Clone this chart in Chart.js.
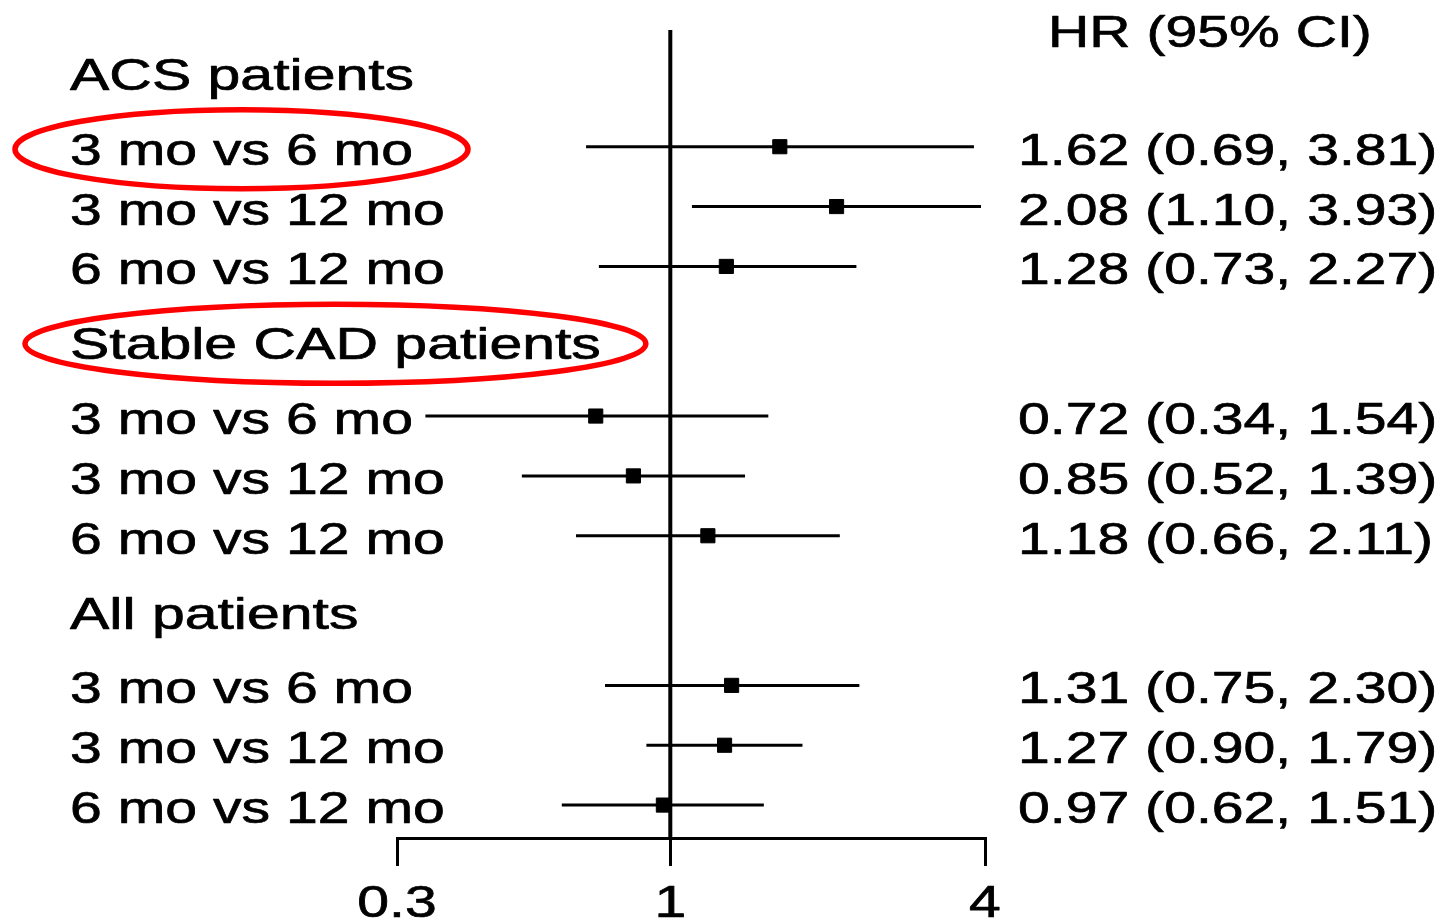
<!DOCTYPE html>
<html>
<head>
<meta charset="utf-8">
<script src="https://cdn.jsdelivr.net/npm/chart.js@4.4.1/dist/chart.umd.min.js"></script>
<style>
  html, body { margin: 0; padding: 0; background: #fff; }
  #wrap { width: 1448px; height: 919px; }
</style>
</head>
<body>
<div id="wrap"><canvas id="c" width="1448" height="919"></canvas></div>
<script>
// ---- data ----
const groups = ['ACS patients', 'Stable CAD patients', 'All patients'];
const comparisons = ['3 mo vs 6 mo', '3 mo vs 12 mo', '6 mo vs 12 mo'];
const hr    = [1.62, 2.08, 1.28, 0.72, 0.85, 1.18, 1.31, 1.27, 0.97];
const lower = [0.69, 1.10, 0.73, 0.34, 0.52, 0.66, 0.75, 0.90, 0.62];
const upper = [3.81, 3.93, 2.27, 1.54, 1.39, 2.11, 2.30, 1.79, 1.51];
const xTicks = [0.3, 1, 4];
const refValue = 1;
const columnHeader = 'HR (95% CI)';
const highlighted = ['ACS patients|3 mo vs 6 mo', 'Stable CAD patients'];

// ---- layout of rows (header rows get extra spacing) ----
const rows = [];
let u = 0;
groups.forEach((g, gi) => {
  if (gi > 0) u += 1.25;
  rows.push({ type: 'header', text: g, key: g, u });
  comparisons.forEach((c, ci) => {
    u += (ci === 0 ? 1.25 : 1);
    const idx = gi * comparisons.length + ci;
    rows.push({ type: 'data', text: c, key: g + '|' + c, u, idx });
  });
});
const dataRows = rows.filter(r => r.type === 'data');

const SX = 1.27, SX_HEAD = 1.31;
const FONT = '45px "Liberation Sans", Arial, sans-serif';

function drawText(ctx, text, x, y, align, sx) {
  ctx.save();
  ctx.translate(x, y);
  ctx.scale(sx || SX, 1);
  ctx.font = FONT;
  ctx.fillStyle = '#000';
  ctx.strokeStyle = '#000';
  ctx.lineWidth = 0.7;
  ctx.lineJoin = 'round';
  ctx.textAlign = align || 'left';
  ctx.textBaseline = 'alphabetic';
  ctx.fillText(text, 0, 0);
  ctx.strokeText(text, 0, 0);
  ctx.restore();
}

const textPlugin = {
  id: 'forestText',
  afterDraw(chart) {
    const ctx = chart.ctx;
    const ys = chart.scales.y, xs = chart.scales.x;
    const area = chart.chartArea;
    const labelX = 70, valueX = 1018;
    drawText(ctx, columnHeader, 1048, area.top + 17, 'left', SX);
    rows.forEach(r => {
      const py = ys.getPixelForValue(r.u);
      const base = py + 18;
      const sx = r.type === 'header' ? SX_HEAD : SX;
      drawText(ctx, r.text, labelX, base, 'left', sx);
      if (r.type === 'data') {
        const i = r.idx;
        const s = hr[i].toFixed(2) + ' (' + lower[i].toFixed(2) + ', ' + upper[i].toFixed(2) + ')';
        drawText(ctx, s, valueX, base, 'left', SX);
      }
      if (highlighted.includes(r.key)) {
        ctx.save();
        ctx.font = FONT;
        const w = ctx.measureText(r.text).width * sx;
        const pad = r.type === 'header' ? 45 : 55;
        ctx.beginPath();
        ctx.ellipse(labelX + w / 2, py + 2.5, w / 2 + pad, 39.5, 0, 0, Math.PI * 2);
        ctx.strokeStyle = '#ff0000';
        ctx.lineWidth = 5.5;
        ctx.stroke();
        ctx.restore();
      }
    });
    xTicks.forEach(v => {
      drawText(ctx, String(v), xs.getPixelForValue(v), 917, 'center', SX);
    });
  }
};

// ---- datasets ----
const datasets = [];
datasets.push({
  label: 'HR',
  data: dataRows.map(r => ({ x: hr[r.idx], y: r.u })),
  pointStyle: 'rect',
  pointRadius: 10,
  pointBorderWidth: 1,
  pointBackgroundColor: '#000',
  pointBorderColor: '#000',
  showLine: false,
  order: 0
});
dataRows.forEach(r => {
  datasets.push({
    label: 'CI ' + r.key,
    data: [{ x: lower[r.idx], y: r.u }, { x: upper[r.idx], y: r.u }],
    showLine: true,
    borderColor: '#000',
    borderWidth: 3,
    pointRadius: 0,
    order: 1
  });
});
const yMin = -0.70, yMax = 12.80;
datasets.push({
  label: 'ref',
  data: [{ x: refValue, y: yMin }, { x: refValue, y: yMax }],
  showLine: true,
  borderColor: '#000',
  borderWidth: 4,
  pointRadius: 0,
  clip: false,
  order: 2
});

new Chart(document.getElementById('c'), {
  type: 'scatter',
  data: { datasets },
  options: {
    responsive: false,
    animation: false,
    devicePixelRatio: 1,
    layout: { padding: { left: 397, right: 463, top: 30, bottom: 53 } },
    plugins: { legend: { display: false }, tooltip: { enabled: false } },
    scales: {
      x: {
        type: 'logarithmic',
        min: 0.3,
        max: 4,
        afterBuildTicks: (scale) => { scale.ticks = xTicks.map(v => ({ value: v })); },
        ticks: { display: false },
        grid: { display: true, drawOnChartArea: false, drawTicks: true, tickLength: 28, color: '#000', lineWidth: 3 },
        border: { display: true, color: '#000', width: 3 }
      },
      y: {
        type: 'linear',
        reverse: true,
        min: yMin,
        max: yMax,
        display: false
      }
    }
  },
  plugins: [textPlugin]
});
</script>
</body>
</html>
